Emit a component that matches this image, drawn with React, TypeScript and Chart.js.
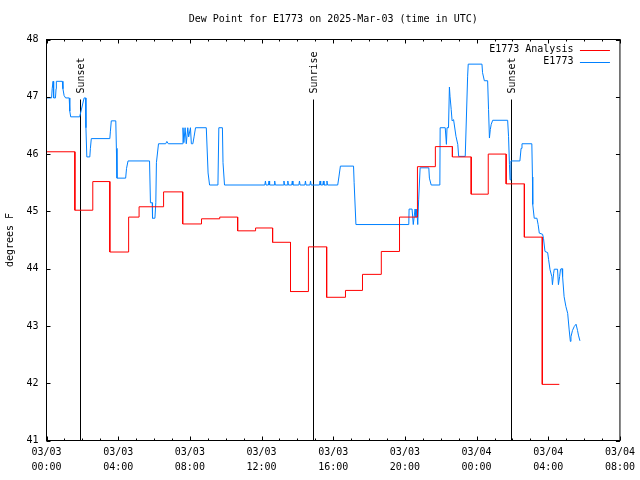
import React, { useEffect, useRef } from "react";
import { Chart, registerables } from "chart.js";

Chart.register(...registerables);

// ---------- text ----------
const TITLE = "Dew Point for E1773 on 2025-Mar-03 (time in UTC)";
const Y_LABEL = "degrees F";
const SERIES_ANALYSIS = "E1773 Analysis";
const SERIES_OBS = "E1773";
const MONTH = "03";
const START_DAY = 3;

// ---------- axes (minutes since 03/03 00:00 UTC) ----------
const X_MIN = 0;
const X_MAX = 1920;
const X_MAJOR = 240;
const X_MINOR = 60;
const Y_MIN = 41;
const Y_MAX = 48;
const Y_STEP = 1;

// ---------- E1773 Analysis: value holds from each start minute ----------
const analysisStart = [
  0, 95, 155, 212, 275, 310, 392, 456, 519, 580, 640, 700, 757, 817, 877, 938,
  1001, 1058, 1121, 1182, 1242, 1302, 1359, 1422, 1479, 1539, 1600, 1660,
];
const analysisValues = [
  46.04, 45.02, 45.52, 44.29, 44.9, 45.08, 45.34, 44.78, 44.87, 44.9, 44.66,
  44.71, 44.46, 43.6, 44.38, 43.5, 43.62, 43.9, 44.3, 44.9, 45.78, 46.13, 45.95,
  45.3, 46.0, 45.48, 44.55, 41.98,
];
const analysisEnd = 1717;

// ---------- E1773 observations ----------
const obsMinutes = [
  0, 17, 19, 22, 24, 30, 32, 33, 53, 55, 59, 64, 76, 78, 81, 111, 126, 131, 132,
  135, 145, 147, 150, 212, 214, 217, 232, 234, 236, 265, 268, 273, 345, 348,
  354, 355, 363, 366, 368, 375, 399, 403, 408, 455, 457, 460, 464, 468, 473,
  476, 482, 485, 490, 494, 499, 535, 541, 546, 574, 577, 589, 591, 596,
  731, 733, 735, 743, 745, 747, 762, 764, 766, 793, 795, 797, 806, 808, 810,
  821, 823, 825, 845, 847, 849, 865, 867, 869, 882, 884, 886, 914, 916, 918,
  925, 927, 929, 937, 939, 941,
  975, 979, 984, 1028, 1030, 1036, 1213, 1214, 1224, 1228, 1234, 1237, 1240,
  1243, 1246, 1251, 1280, 1282, 1288, 1317, 1318, 1335, 1339, 1341, 1346, 1349,
  1351, 1355, 1358, 1363, 1366, 1371, 1377, 1380, 1402, 1410, 1412, 1458, 1460,
  1466, 1477, 1480, 1483, 1486, 1489, 1494, 1544, 1547, 1550, 1552, 1555, 1585,
  1589, 1592, 1625, 1627, 1628, 1633, 1642, 1646, 1650, 1661, 1664, 1669, 1678,
  1681, 1686, 1692, 1694, 1698, 1700, 1711, 1714, 1718, 1721, 1726, 1728, 1733,
  1739, 1745, 1750, 1754, 1756, 1761, 1767, 1773, 1778, 1781, 1786,
];
const obsValues = [
  46.98, 46.98, 47.14, 47.27, 46.98, 46.98, 47.14, 47.27, 47.27, 47.14, 47.02,
  46.98, 46.98, 46.75, 46.65, 46.65, 46.98, 46.98, 46.46, 45.95, 45.95, 46.1,
  46.27, 46.27, 46.4, 46.58, 46.58, 46.1, 45.58, 45.58, 45.75, 45.88, 45.88,
  45.15, 45.15, 44.88, 44.88, 45.15, 45.85, 46.18, 46.18, 46.22, 46.18, 46.18,
  46.46, 46.2, 46.46, 46.18, 46.46, 46.3, 46.46, 46.18, 46.18, 46.3, 46.46,
  46.46, 45.67, 45.46, 45.46, 46.46, 46.46, 45.85, 45.46,
  45.46, 45.53, 45.46, 45.46, 45.53, 45.46, 45.46, 45.53, 45.46, 45.46, 45.53,
  45.46, 45.46, 45.53, 45.46, 45.46, 45.53, 45.46, 45.46, 45.53, 45.46, 45.46,
  45.53, 45.46, 45.46, 45.53, 45.46, 45.46, 45.53, 45.46, 45.46, 45.53, 45.46,
  45.46, 45.53, 45.46,
  45.46, 45.6, 45.79, 45.79, 45.5, 44.77, 44.77, 45.04, 45.04, 44.77, 45.04,
  44.9, 45.04, 44.77, 45.2, 45.76, 45.76, 45.58, 45.46, 45.46, 46.46, 46.46,
  46.17, 46.46, 46.46, 47.17, 47.01, 46.78, 46.58, 46.6, 46.49, 46.31, 46.17,
  45.96, 45.96, 47.36, 47.57, 47.57, 47.42, 47.28, 47.28, 46.78, 46.28, 46.43,
  46.52, 46.59, 46.59, 46.31, 45.82, 45.55, 45.88, 45.88, 46.1, 46.18, 46.18,
  45.6, 45.12, 44.88, 44.88, 44.77, 44.62, 44.6, 44.53, 44.3, 44.28, 44.16,
  43.98, 43.86, 43.72, 43.92, 43.99, 43.99, 43.72, 43.86, 43.99, 44.0, 43.86,
  43.51, 43.34, 43.22, 42.93, 42.73, 42.81, 42.92, 42.99, 43.03, 42.92, 42.84,
  42.74,
];

// ---------- sun events ----------
const sunMinutes = [113, 892, 1554];
const sunLabels = ["Sunset", "Sunrise", "Sunset"];
const SUN_LINE_TOP_VALUE = 46.97;

// ---------- styles ----------
const FONT = "DejaVu Sans Mono";
const RED = "#ff0000";
const BLUE = "#0080ff";

const pad2 = (n: number) => (n < 10 ? "0" + n : "" + n);

function buildAnalysisPoints() {
  const pts: { x: number; y: number }[] = [];
  for (let i = 0; i < analysisStart.length; i++) {
    const end = i + 1 < analysisStart.length ? analysisStart[i + 1] : analysisEnd;
    pts.push({ x: analysisStart[i], y: analysisValues[i] });
    pts.push({ x: end, y: analysisValues[i] });
  }
  return pts;
}

const framePlugin = {
  id: "gnuFrame",
  beforeDatasetsDraw(chart: any) {
    const { ctx, chartArea: a, scales } = chart;
    const xs = scales.x;
    const ys = scales.y;
    ctx.save();
    ctx.strokeStyle = "#000";
    ctx.lineWidth = 1;
    ctx.fillStyle = "#000";
    ctx.font = `10px "${FONT}"`;
    const topY = Math.round(ys.getPixelForValue(SUN_LINE_TOP_VALUE)) + 0.5;
    sunMinutes.forEach((m, i) => {
      const px = Math.round(xs.getPixelForValue(m)) + 0.5;
      ctx.beginPath();
      ctx.moveTo(px, topY);
      ctx.lineTo(px, a.bottom);
      ctx.stroke();
      ctx.save();
      ctx.translate(px + 0.5, topY - 6);
      ctx.rotate(-Math.PI / 2);
      ctx.textAlign = "left";
      ctx.textBaseline = "middle";
      ctx.fillText(sunLabels[i], 0, 0);
      ctx.restore();
    });
    ctx.restore();
  },
  afterDraw(chart: any) {
    const { ctx, chartArea: a, scales } = chart;
    const xs = scales.x;
    const ys = scales.y;
    ctx.save();
    ctx.strokeStyle = "#000";
    ctx.lineWidth = 1;
    // border
    ctx.strokeRect(a.left, a.top, a.right - a.left, a.bottom - a.top);
    // ticks
    ctx.beginPath();
    for (let m = X_MIN; m <= X_MAX; m += X_MINOR) {
      const px = Math.round(xs.getPixelForValue(m)) + 0.5;
      const len = m % X_MAJOR === 0 ? 4 : 2;
      ctx.moveTo(px, a.bottom);
      ctx.lineTo(px, a.bottom - len);
      ctx.moveTo(px, a.top);
      ctx.lineTo(px, a.top + len);
    }
    for (let v = Y_MIN; v <= Y_MAX; v += Y_STEP) {
      const py = Math.round(ys.getPixelForValue(v)) + 0.5;
      ctx.moveTo(a.left, py);
      ctx.lineTo(a.left + 4, py);
      ctx.moveTo(a.right, py);
      ctx.lineTo(a.right - 4, py);
    }
    ctx.stroke();

    ctx.fillStyle = "#000";
    ctx.font = `10px "${FONT}"`;
    // title
    ctx.textAlign = "center";
    ctx.textBaseline = "middle";
    ctx.fillText(TITLE, (a.left + a.right) / 2, 19);
    // y label
    ctx.save();
    ctx.translate(10, (a.top + a.bottom) / 2);
    ctx.rotate(-Math.PI / 2);
    ctx.fillText(Y_LABEL, 0, 0);
    ctx.restore();
    // legend
    const entries = [
      { label: SERIES_ANALYSIS, color: RED },
      { label: SERIES_OBS, color: BLUE },
    ];
    entries.forEach((e, i) => {
      const y = a.top + 10 + i * 12;
      ctx.fillStyle = "#000";
      ctx.textAlign = "right";
      ctx.textBaseline = "middle";
      ctx.fillText(e.label, a.right - 46.5, y);
      ctx.strokeStyle = e.color;
      ctx.beginPath();
      ctx.moveTo(a.right - 40, Math.round(y) + 0.5);
      ctx.lineTo(a.right - 10, Math.round(y) + 0.5);
      ctx.stroke();
    });
    ctx.restore();
  },
};

export default function App() {
  const ref = useRef<HTMLCanvasElement | null>(null);
  useEffect(() => {
    if (!ref.current) return;
    const obsPoints = obsMinutes.map((m, i) => ({ x: m, y: obsValues[i] }));
    const chart = new Chart(ref.current, {
      type: "line",
      data: {
        datasets: [
          {
            label: SERIES_ANALYSIS,
            data: buildAnalysisPoints(),
            borderColor: RED,
            borderWidth: 1,
            pointRadius: 0,
            tension: 0,
            fill: false,
          },
          {
            label: SERIES_OBS,
            data: obsPoints,
            borderColor: BLUE,
            borderWidth: 1,
            pointRadius: 0,
            tension: 0,
            fill: false,
          },
        ],
      },
      options: {
        animation: false,
        responsive: false,
        events: [],
        layout: { padding: { top: 39.5, right: 19.5, bottom: 0, left: 0 } },
        plugins: {
          legend: { display: false },
          title: { display: false },
          tooltip: { enabled: false },
        },
        scales: {
          x: {
            type: "linear",
            min: X_MIN,
            max: X_MAX,
            grid: { display: false, drawTicks: false },
            border: { display: false },
            afterFit: (s: any) => {
              s.height = 39.5;
            },
            ticks: {
              stepSize: X_MAJOR,
              autoSkip: false,
              maxRotation: 0,
              minRotation: 0,
              padding: 5,
              color: "#000",
              font: { family: FONT, size: 10, lineHeight: 1.46 },
              callback: (v: any) => {
                const m = Number(v);
                const day = START_DAY + Math.floor(m / 1440);
                const hh = Math.floor((m % 1440) / 60);
                return [`${MONTH}/${pad2(day)}`, `${pad2(hh)}:00`];
              },
            },
          },
          y: {
            type: "linear",
            min: Y_MIN,
            max: Y_MAX,
            grid: { display: false, drawTicks: false },
            border: { display: false },
            afterFit: (s: any) => {
              s.width = 46.5;
            },
            ticks: {
              stepSize: Y_STEP,
              padding: 8,
              color: "#000",
              font: { family: FONT, size: 10 },
              callback: (v: any) => String(v),
            },
          },
        },
      },
      plugins: [framePlugin],
    });
    return () => chart.destroy();
  }, []);
  return (
    <div style={{ position: "absolute", left: 0, top: 0, width: 640, height: 480, background: "#fff" }}>
      <canvas ref={ref} width={640} height={480} style={{ display: "block" }} />
    </div>
  );
}
